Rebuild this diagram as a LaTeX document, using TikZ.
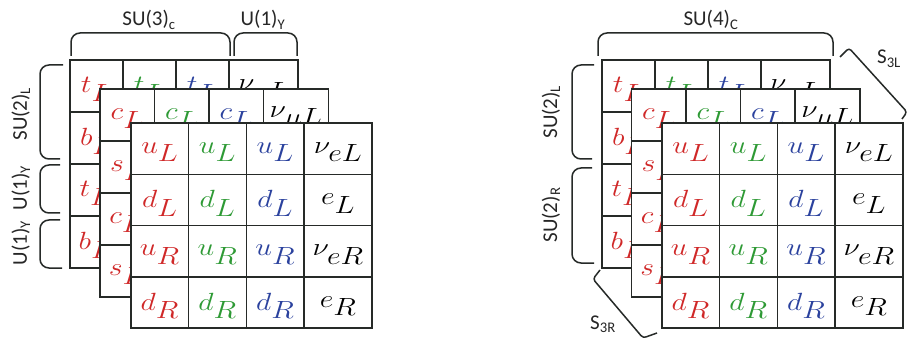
\documentclass[tikz,border=0pt]{standalone}
\usepackage{graphicx}
\usepackage{fontspec}
\setmainfont{Carlito}
\definecolor{cred}{HTML}{D02828}
\definecolor{cgreen}{HTML}{2E9A35}
\definecolor{cblue}{HTML}{2B429E}
\definecolor{linec}{HTML}{262A28}
\newcommand\wide[1]{\raisebox{-3.5pt}[\height][\depth]{\scalebox{1.2}[1]{$#1$}}}
\newcommand\mkgrid[7]{%
  \foreach \q/\l [count=\i] in {#7} {
    \foreach \c/\cc in {1/cred,2/cgreen,3/cblue} {
      \node[cell, minimum width=#4pt, minimum height=#6pt, text=\cc] (#1-\i-\c)
        at ({#2+(\c-0.5)*#4},{#3+(\i-0.5)*#6}) {\wide{\q}};
    }
    \node[cell, minimum width=#5pt, minimum height=#6pt] (#1-\i-4)
      at ({#2+3*#4+0.5*#5},{#3+(\i-0.5)*#6}) {\wide{\l}};
  }%
}
\begin{document}
\begin{tikzpicture}[x=1pt,y=-1pt,
  cell/.style={draw=linec, line width=1.5pt, fill=white, inner sep=0pt, outer sep=0pt,
    font=\fontsize{34}{38}\selectfont},
  brace/.style={draw=linec, line width=1.5pt, rounded corners=9pt},
  lab/.style={font=\fontsize{21}{24}\selectfont, inner sep=0pt, text=black!85, anchor=base}]
\useasboundingbox (0,0) rectangle (909,347);
\fill[white] (0,0) rectangle (909,347);

% ---------- left panel ----------
\mkgrid{LB}{70}{60}{53}{69}{52}{t_L/\nu_{\tau L}, b_L/\tau_L, t_R/\nu_{\tau R}, b_R/\tau_R}
\mkgrid{LM}{100}{89}{54.5}{65}{52}{c_L/\nu_{\mu L}, s_L/\mu_L, c_R/\nu_{\mu R}, s_R/\mu_R}
\mkgrid{LF}{131}{123}{57.7}{68}{51.3}{u_L/\nu_{eL}, d_L/e_L, u_R/\nu_{eR}, d_R/e_R}

\draw[brace] (71,56) -- (71,33) -- (230,33) -- (230,56);
\draw[brace] (234,56) -- (234,33) -- (297,33) -- (297,56);
\node[lab] (su3) at (149,26) {SU(3)\textsubscript{c}};
\node[lab] (u1a) at (263,26) {U(1)\textsubscript{Y}};

\draw[brace] (63,65) -- (40,65) -- (40,159) -- (60,159);
\draw[brace] (60,165) -- (40,165) -- (40,213) -- (60,213);
\draw[brace] (60,220) -- (40,220) -- (40,268) -- (62,268);
\node[lab, rotate=90] (su2l) at (27,114) {SU(2)\textsubscript{L}};
\node[lab, rotate=90] (u1b) at (27,188) {U(1)\textsubscript{Y}};
\node[lab, rotate=90] (u1c) at (27,243) {U(1)\textsubscript{Y}};

% ---------- right panel ----------
\mkgrid{RB}{602}{60}{53}{69}{52}{t_L/\nu_{\tau L}, b_L/\tau_L, t_R/\nu_{\tau R}, b_R/\tau_R}
\mkgrid{RM}{631.5}{89}{54.5}{65}{52}{c_L/\nu_{\mu L}, s_L/\mu_L, c_R/\nu_{\mu R}, s_R/\mu_R}
\mkgrid{RF}{662}{123}{57.7}{68}{51.3}{u_L/\nu_{eL}, d_L/e_L, u_R/\nu_{eR}, d_R/e_R}

\draw[brace] (598,56) -- (598,33) -- (833,33) -- (833,56);
\node[lab] (su4) at (711,26) {SU(4)\textsubscript{C}};

\draw[brace] (594,65) -- (572,65) -- (572,159) -- (592,159);
\draw[brace] (592,168) -- (572,168) -- (572,263) -- (594,263);
\node[lab, rotate=90] (su2lr) at (557,112) {SU(2)\textsubscript{L}};
\node[lab, rotate=90] (su2r) at (557,215) {SU(2)\textsubscript{R}};

\draw[linec, line width=1.5pt, rounded corners=3pt] (840,57) -- (849,48) -- (907,112) -- (902,119);
\node[lab] (s3l) at (889,64) {S\textsubscript{3L}};
\draw[linec, line width=1.5pt, rounded corners=3pt] (600,270) -- (593,279) -- (643,338) -- (657,333);
\node[lab] (s3r) at (603,329) {S\textsubscript{3R}};
\end{tikzpicture}
\end{document}
